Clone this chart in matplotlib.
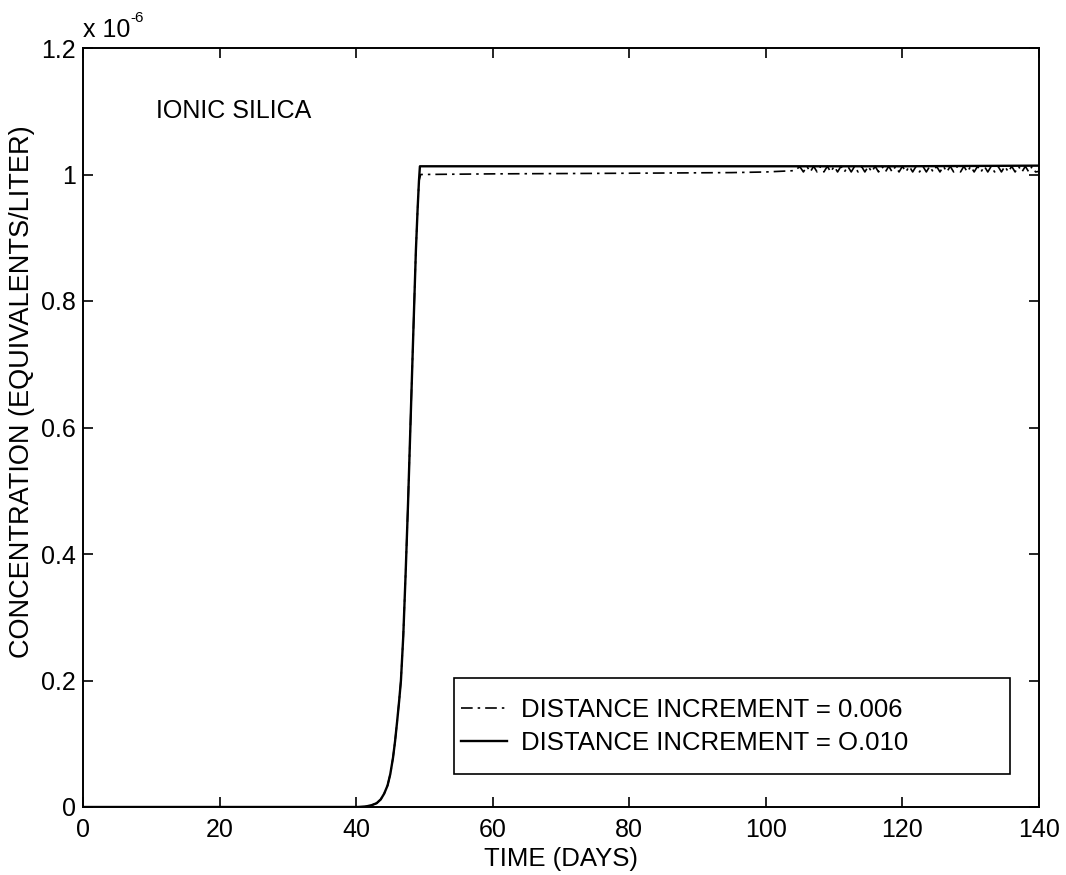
import matplotlib
matplotlib.use("Agg")
import matplotlib.pyplot as plt
from matplotlib.patches import Rectangle
import numpy as np

plt.rcParams['font.family'] = ['Liberation Sans', 'DejaVu Sans']

# breakthrough rise, days / 1e-6 eq/L
rise_t = [0, 40.3, 41.5, 42.3, 43.0, 43.6, 44.1, 44.6, 45.0, 45.4, 45.7, 46.0, 46.3, 46.56,
          46.9, 47.25, 47.6, 48.0, 48.4, 48.75, 49.0, 49.2]
rise_c = [0, 0.0, 0.001, 0.003, 0.006, 0.012, 0.021, 0.034, 0.052, 0.078, 0.104, 0.135, 0.168, 0.2,
          0.27, 0.37, 0.48, 0.62, 0.76, 0.88, 0.945, 0.99]

# dx = 0.010 plateau
solid_t = [49.34, 70, 100, 120, 140]
solid_c = [1.013, 1.013, 1.013, 1.013, 1.014]

# dx = 0.006 plateau, oscillating past ~105 days
dash_t = [49.45, 60, 80, 95, 100, 104,
          105, 105.5, 106, 106.5, 107, 107.5, 108, 108.5, 109, 109.5, 110, 110.5, 111, 111.5,
          112, 112.5, 113, 113.5, 114, 114.5, 115, 115.5, 116, 116.5, 117, 117.5, 118, 118.5,
          119, 119.5, 120, 120.5, 121, 121.5, 122, 122.5, 123, 123.5, 124, 124.5, 125, 125.5,
          126, 126.5, 127, 127.5, 128, 128.5, 129, 129.5, 130, 130.5, 131, 131.5, 132, 132.5,
          133, 133.5, 134, 134.5, 135, 135.5, 136, 136.5, 137, 137.5, 138, 138.5, 139, 139.5, 140]
dash_c = [1.0, 1.001, 1.002, 1.003, 1.004, 1.006,
          1.012, 1.004, 1.013, 1.004, 1.013, 1.004, 1.013, 1.004, 1.013, 1.004, 1.013, 1.004, 1.013, 1.004,
          1.013, 1.004, 1.013, 1.004, 1.013, 1.004, 1.013, 1.004, 1.013, 1.004, 1.013, 1.004, 1.013, 1.004,
          1.013, 1.004, 1.013, 1.004, 1.013, 1.004, 1.013, 1.004, 1.013, 1.004, 1.013, 1.004, 1.013, 1.004,
          1.013, 1.004, 1.013, 1.004, 1.013, 1.004, 1.013, 1.004, 1.013, 1.004, 1.013, 1.004, 1.013, 1.004,
          1.013, 1.004, 1.013, 1.004, 1.013, 1.004, 1.013, 1.004, 1.013, 1.004, 1.013, 1.004, 1.013, 1.004, 1.005]

xticks = [0, 20, 40, 60, 80, 100, 120, 140]
yticks = [0, 0.2, 0.4, 0.6, 0.8, 1.0, 1.2]
ytick_labels = ['0', '0.2', '0.4', '0.6', '0.8', '1', '1.2']

fs = 18
W, H = 1066, 875
AL, AR, AT, AB = 83, 1039, 48, 807   # axes box in pixels

fig = plt.figure(figsize=(W / 100, H / 100), dpi=100)
ax = fig.add_axes([AL/W, 1 - AB/H, (AR-AL)/W, (AB-AT)/H])

scale = 1e-6
ax.plot(np.array(rise_t + dash_t), np.array(rise_c + dash_c) * scale, color='black',
        lw=1.2, linestyle=(0, (7, 3, 1.5, 3)), label='DISTANCE INCREMENT = 0.006')
ax.plot(np.array(rise_t + solid_t), np.array(rise_c + solid_c) * scale, color='black',
        lw=1.7, label='DISTANCE INCREMENT = O.010')

ax.set_xlim(0, 140)
ax.set_ylim(0, 1.2e-6)
ax.set_xticks(xticks)
ax.set_xticklabels([str(v) for v in xticks], fontsize=fs)
ax.set_yticks(np.array(yticks) * scale)
ax.set_yticklabels(ytick_labels, fontsize=fs)
ax.tick_params(direction='in', length=7, width=1.2, top=True, right=True)
ax.tick_params(axis='x', pad=8)
ax.tick_params(axis='y', pad=5)
for s in ax.spines.values():
    s.set_linewidth(1.4)

ax.set_xlabel('TIME (DAYS)', fontsize=18.5)
ax.xaxis.set_label_coords(0.5, -(847 - AB) / (AB - AT))
ax.set_ylabel('CONCENTRATION (EQUIVALENTS/LITER)', fontsize=19.5)
ax.yaxis.set_label_coords((35 - AL) / (AR - AL), (AB - 392) / (AB - AT))

ax.text(10.7, 1.1e-6, 'IONIC SILICA', fontsize=fs, va='center', ha='left')

fig.text(AL/W, 1 - 37/H, 'x 10', fontsize=fs, ha='left', va='baseline')
fig.text(130/W, 1 - 22/H, '-6', fontsize=11, ha='left', va='baseline')

# legend frame as in the original (wide box, text left)
ax.add_patch(Rectangle((454/W, 1 - 774/H), (1010-454)/W, (774-678)/H,
                       transform=fig.transFigure, facecolor='white',
                       edgecolor='black', lw=1.2, zorder=3, clip_on=False))
leg = ax.legend(loc='upper left', bbox_to_anchor=(461/W, 1 - 698/H),
                bbox_transform=fig.transFigure, fontsize=18.5, frameon=False,
                borderpad=0, handlelength=1.8, handletextpad=0.55, labelspacing=0.36,
                borderaxespad=0)
leg.set_zorder(5)

fig.savefig('out.png', dpi=100)
